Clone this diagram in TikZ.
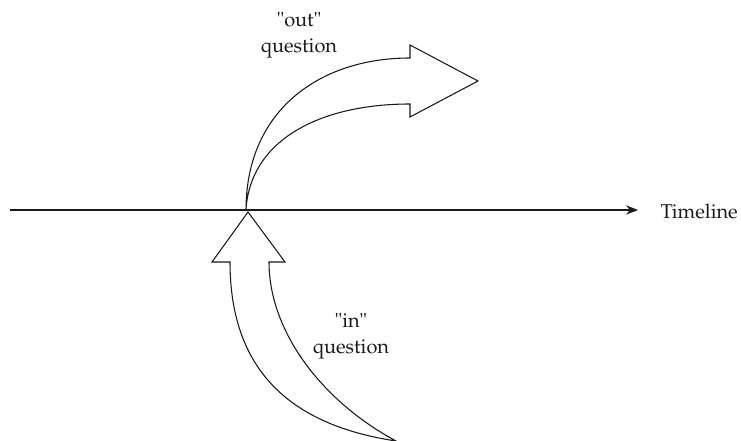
\documentclass[tikz,border=0pt]{standalone}
\usepackage[T1]{fontenc}
\usepackage{mathpazo}
\usetikzlibrary{arrows.meta}
\definecolor{ink}{HTML}{1A1A1A}

\begin{document}
\begin{tikzpicture}[x=0.75pt, y=-0.75pt,
          blk/.style={draw=ink, line width=0.8pt, fill=white, line join=miter},
          lbl/.style={font=\fontsize{15}{19.5}\selectfont, color=ink, align=center}]
        \useasboundingbox (0,0) rectangle (741,441);
        % timeline
        \coordinate (t0) at (10,210);
        \coordinate (t1) at (638,210);
        \node[lbl, anchor=west] (tl) at (656,211) {Timeline};
        \draw[-{Stealth[length=9pt,width=7pt]}, ink, line width=0.8pt] (t0) -- (t1);
        % "out" arrow
        \coordinate (o) at (246,210);
        \draw[blk] (o) .. controls (246,110) and (320,58) .. (410,58)
          -- (410,45) -- (478,81) -- (410,117) -- (410,104)
          .. controls (320,104) and (250,140) .. (o) -- cycle;
        % "in" arrow
        \coordinate (i) at (248,212);
        \coordinate (b) at (396,441);
        \draw[blk] (i) -- (285,262) -- (269,262)
          .. controls (269,330) and (320,400) .. (b)
          .. controls (290,425) and (230,370) .. (230,262)
          -- (212,262) -- cycle;
        \node[lbl] (outq) at (299,35) {\textquotedbl out\textquotedbl\\question};
        \node[lbl] (inq) at (351,336) {\textquotedbl in\textquotedbl\\question};
      \end{tikzpicture}
\end{document}
